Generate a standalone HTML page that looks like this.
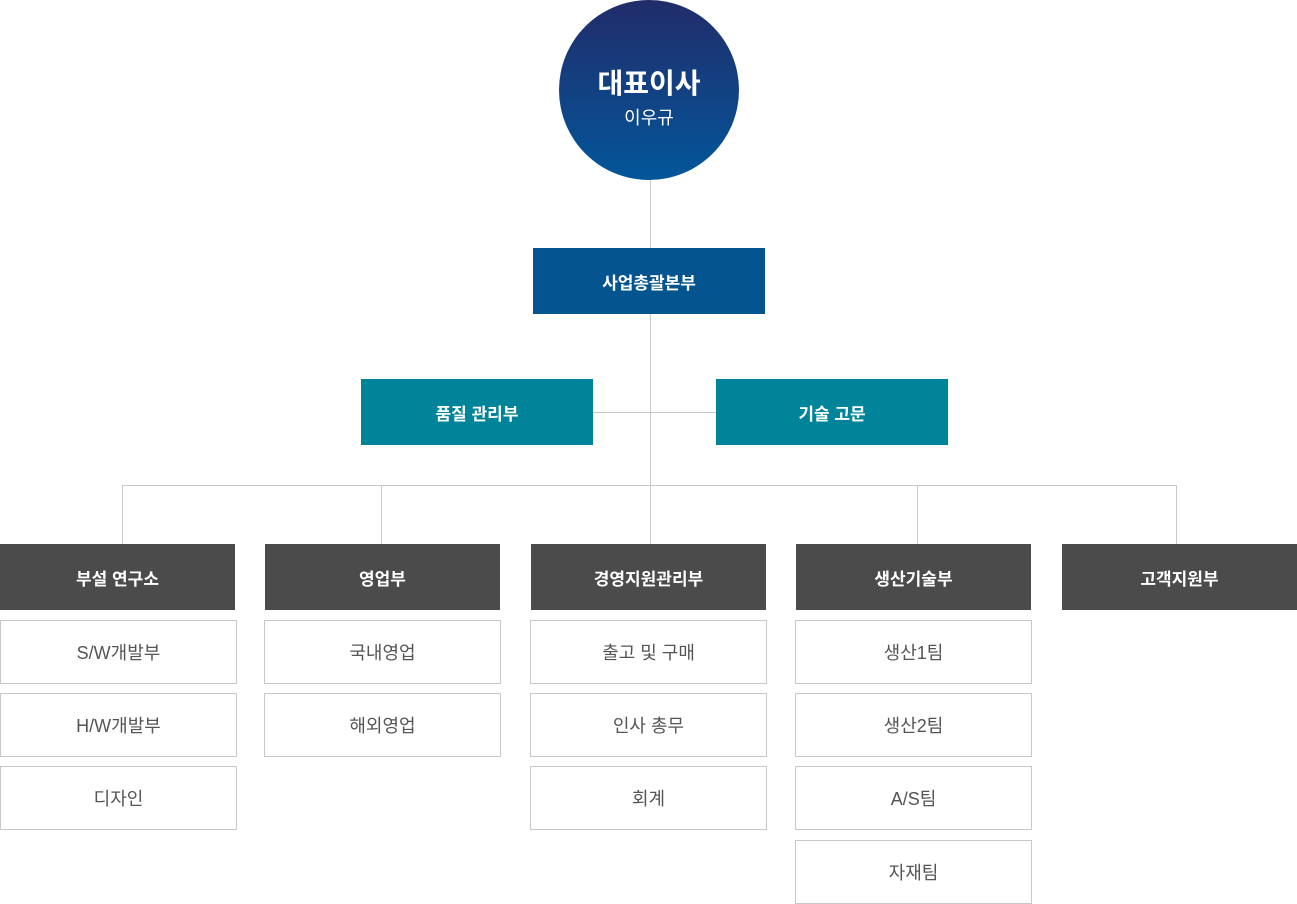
<!DOCTYPE html>
<html><head><meta charset="utf-8"><style>
body{margin:0;width:1297px;height:904px;background:#fff;position:relative;overflow:hidden;font-family:"Liberation Sans","Noto Sans CJK KR",sans-serif}
.a{position:absolute;box-sizing:border-box;display:flex;align-items:center;justify-content:center;text-align:center}
.l{position:absolute;background:#c8c8c8}
.c{left:559px;top:0;width:180px;height:180px;border-radius:50%;background:linear-gradient(#212c6a,#03569a);color:#fff;flex-direction:column}
.b{color:#fff;font-size:17px;font-weight:bold;height:66px}
.s{border:1px solid #c8c8c8;color:#555;font-size:18px;height:64px;width:237px}
</style></head><body>
<div class="l" style="left:650px;top:180px;width:1px;height:305px"></div>
<div class="l" style="left:593px;top:412px;width:123px;height:1px"></div>
<div class="l" style="left:122px;top:485px;width:1055px;height:1px"></div>
<div class="l" style="left:122px;top:485px;width:1px;height:59px"></div>
<div class="l" style="left:381px;top:485px;width:1px;height:59px"></div>
<div class="l" style="left:650px;top:485px;width:1px;height:59px"></div>
<div class="l" style="left:917px;top:485px;width:1px;height:59px"></div>
<div class="l" style="left:1176px;top:485px;width:1px;height:59px"></div>
<div class="a c"><div style="font-size:28px;font-weight:bold;margin-top:12px">대표이사</div><div style="font-size:18px;margin-top:2px">이우규</div></div>
<div class="a b" style="left:533px;top:248px;width:232px;background:#03548f">사업총괄본부</div>
<div class="a b" style="left:361px;top:379px;width:232px;background:#00849a">품질 관리부</div>
<div class="a b" style="left:716px;top:379px;width:232px;background:#00849a">기술 고문</div>
<div class="a b" style="left:0;top:544px;width:235px;background:#4b4b4b">부설 연구소</div>
<div class="a b" style="left:265px;top:544px;width:235px;background:#4b4b4b">영업부</div>
<div class="a b" style="left:531px;top:544px;width:235px;background:#4b4b4b">경영지원관리부</div>
<div class="a b" style="left:796px;top:544px;width:235px;background:#4b4b4b">생산기술부</div>
<div class="a b" style="left:1062px;top:544px;width:235px;background:#4b4b4b">고객지원부</div>
<div class="a s" style="left:0;top:620px">S/W개발부</div>
<div class="a s" style="left:0;top:693px">H/W개발부</div>
<div class="a s" style="left:0;top:766px">디자인</div>
<div class="a s" style="left:264px;top:620px">국내영업</div>
<div class="a s" style="left:264px;top:693px">해외영업</div>
<div class="a s" style="left:530px;top:620px">출고 및 구매</div>
<div class="a s" style="left:530px;top:693px">인사 총무</div>
<div class="a s" style="left:530px;top:766px">회계</div>
<div class="a s" style="left:795px;top:620px">생산1팀</div>
<div class="a s" style="left:795px;top:693px">생산2팀</div>
<div class="a s" style="left:795px;top:766px">A/S팀</div>
<div class="a s" style="left:795px;top:840px">자재팀</div>
</body></html>
